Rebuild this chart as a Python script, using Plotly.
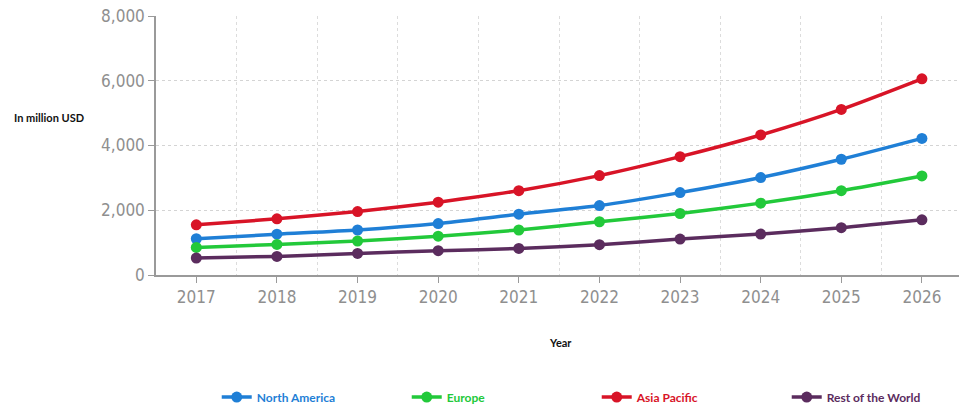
import plotly.graph_objects as go

# Market size by region, in million USD
years = [2017, 2018, 2019, 2020, 2021, 2022, 2023, 2024, 2025, 2026]
north_america = [1120, 1260, 1390, 1590, 1880, 2145, 2545, 3010, 3575, 4220]
europe = [850, 945, 1050, 1200, 1390, 1645, 1900, 2220, 2605, 3060]
asia_pacific = [1550, 1735, 1960, 2250, 2605, 3070, 3655, 4325, 5115, 6060]
rest_of_world = [525, 575, 665, 750, 820, 935, 1110, 1265, 1460, 1705]

series = [
    ("North America", north_america, "#1f7fd6"),
    ("Europe", europe, "#22c93a"),
    ("Asia Pacific", asia_pacific, "#d81427"),
    ("Rest of the World", rest_of_world, "#5b2c5e"),
]

fig = go.Figure()
for name, values, color in series:
    fig.add_trace(go.Scatter(
        x=years, y=values, mode="lines+markers",
        name=f"<span style='color:{color}'>{name}</span>",
        line=dict(color=color, width=3.5, shape="spline", smoothing=0.7),
        marker=dict(color=color, size=11),
    ))

tick_font = dict(family="DejaVu Sans Condensed, Liberation Sans Narrow, sans-serif",
                 size=17, color="#8f8f8f")

fig.update_layout(
    width=959, height=406,
    margin=dict(l=156, r=0, t=16, b=131),
    paper_bgcolor="white", plot_bgcolor="white",
    showlegend=True,
    legend=dict(
        orientation="h", xref="container", yref="container",
        x=0.226, y=0.022, xanchor="left", yanchor="middle",
        entrywidth=145, entrywidthmode="pixels",
        font=dict(family="Lato, sans-serif", size=12, weight="bold"),
        itemwidth=30,
    ),
    xaxis=dict(
        range=[2016.5, 2026.46], tickvals=years, ticktext=[str(y) for y in years],
        showgrid=False, showline=True, linecolor="#9a9a9a", linewidth=1.5,
        ticks="outside", ticklen=6, tickcolor="#9a9a9a", tickfont=tick_font,
        zeroline=False,
        minor=dict(tick0=2016.5, dtick=1, showgrid=True, gridcolor="#dcdcdc",
                   griddash="dot", gridwidth=1, ticks=""),
    ),
    yaxis=dict(
        range=[0, 8000], tickvals=[0, 2000, 4000, 6000, 8000],
        ticktext=["0", "2,000", "4,000", "6,000", "8,000"],
        showgrid=True, gridcolor="#d4d4d4", griddash="dot", gridwidth=1,
        showline=True, linecolor="#9a9a9a", linewidth=1.5,
        ticks="outside", ticklen=6, tickcolor="#9a9a9a", tickfont=tick_font,
        zeroline=False,
    ),
    annotations=[
        dict(text="<b>In million USD</b>", xref="paper", yref="paper",
             x=(12 - 156) / 803, y=(275 - 117) / 259, xanchor="left", yanchor="middle",
             showarrow=False,
             font=dict(family="Lato, sans-serif", size=11, color="#111")),
        dict(text="<b>Year</b>", xref="paper", yref="paper",
             x=(560 - 156) / 803, y=-(342 - 275) / 259, xanchor="center",
             yanchor="middle", showarrow=False,
             font=dict(family="Lato, sans-serif", size=11, color="#111")),
    ],
)

fig.write_html("out.html")
